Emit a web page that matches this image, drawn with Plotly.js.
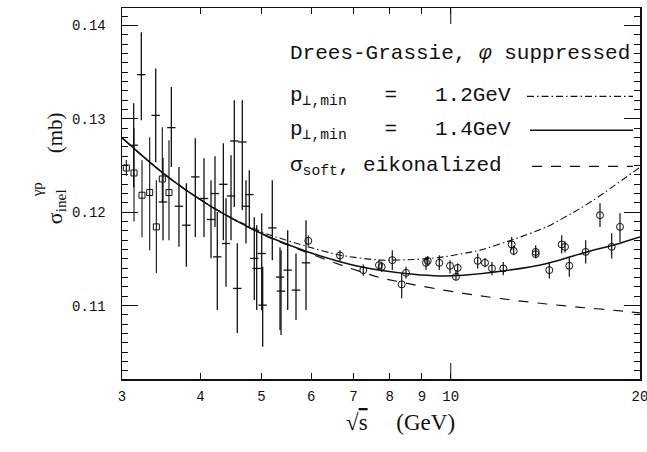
<!DOCTYPE html>
<html>
<head>
<meta charset="utf-8">
<script src="https://cdn.plot.ly/plotly-3.0.1.min.js"></script>
<style>html,body{margin:0;padding:0;background:#fff;}#chart{width:647px;height:452px;}</style>
</head>
<body>
<div id="chart"></div>
<script>
// ---- data ----
// crosses (low-energy data, error bars)
const crossX  = [3.131, 3.220, 3.394, 3.486, 3.594, 3.696, 3.797, 3.924, 4.051, 4.156, 4.217, 4.253, 4.348, 4.391, 4.472, 4.526, 4.576, 4.661, 4.724, 4.782, 4.870, 4.913, 5.004, 5.022, 5.202, 5.351, 5.371, 5.504, 5.674, 5.886];
const crossY  = [0.12717, 0.13473, 0.13037, 0.12110, 0.12906, 0.12064, 0.11861, 0.12378, 0.12147, 0.11922, 0.12200, 0.11522, 0.12299, 0.11665, 0.12174, 0.12763, 0.11184, 0.12752, 0.12064, 0.12189, 0.11505, 0.11398, 0.11558, 0.11005, 0.11832, 0.11305, 0.11155, 0.11380, 0.11166, 0.11458];
const crossHi = [0.13166, 0.13928, 0.13540, 0.12580, 0.13340, 0.12485, 0.12310, 0.12791, 0.12578, 0.12342, 0.12599, 0.12003, 0.12738, 0.12150, 0.12610, 0.13198, 0.11668, 0.13198, 0.12342, 0.12449, 0.11947, 0.11861, 0.11989, 0.11415, 0.12342, 0.11626, 0.11594, 0.11807, 0.11558, 0.11914];
const crossLo = [0.12267, 0.12984, 0.12535, 0.11701, 0.12485, 0.11629, 0.11415, 0.11736, 0.11736, 0.11508, 0.11843, 0.10952, 0.11701, 0.11201, 0.11701, 0.12057, 0.10706, 0.12021, 0.11665, 0.11843, 0.11059, 0.10952, 0.10952, 0.10559, 0.11487, 0.10738, 0.10684, 0.10952, 0.10845, 0.10952];

// open squares
const sqX  = [3.048, 3.135, 3.228, 3.320, 3.402, 3.477, 3.563];
const sqY  = [0.12474, 0.12420, 0.12182, 0.12211, 0.11843, 0.12356, 0.12211];
const sqHi = [0.12560, 0.12900, 0.12556, 0.12802, 0.12342, 0.12909, 0.12770];
const sqLo = [0.12390, 0.11900, 0.11733, 0.11594, 0.11348, 0.12100, 0.11701];

// open circles
const cX  = [5.935, 6.666, 7.260, 7.689, 7.766, 8.073, 8.356, 8.489, 9.134, 9.191, 9.590, 9.973, 10.194, 10.258, 11.038, 11.337, 11.631, 12.123, 12.501, 12.593, 13.650, 13.650, 14.347, 15.014, 15.196, 15.438, 16.393, 17.275, 18.031, 18.588];
const cY  = [0.11693, 0.11537, 0.11380, 0.11433, 0.11415, 0.11487, 0.11227, 0.11351, 0.11458, 0.11479, 0.11458, 0.11426, 0.11308, 0.11404, 0.11479, 0.11458, 0.11398, 0.11398, 0.11655, 0.11586, 0.11575, 0.11551, 0.11380, 0.11655, 0.11629, 0.11426, 0.11575, 0.11968, 0.11629, 0.11843];
const cHi = [0.11750, 0.11594, 0.11440, 0.11490, 0.11470, 0.11594, 0.11348, 0.11415, 0.11522, 0.11530, 0.11540, 0.11487, 0.11380, 0.11450, 0.11558, 0.11510, 0.11468, 0.11468, 0.11736, 0.11640, 0.11647, 0.11610, 0.11468, 0.11754, 0.11690, 0.11522, 0.11701, 0.12096, 0.11775, 0.11989];
const cLo = [0.11640, 0.11468, 0.11320, 0.11380, 0.11360, 0.11380, 0.11080, 0.11291, 0.11380, 0.11430, 0.11380, 0.11344, 0.11273, 0.11330, 0.11398, 0.11410, 0.11326, 0.11326, 0.11594, 0.11540, 0.11520, 0.11508, 0.11291, 0.11558, 0.11570, 0.11308, 0.11451, 0.11843, 0.11505, 0.11679];

// theory curves
const solidX = [3, 3.243, 3.499, 3.779, 4.141, 4.456, 4.794, 5.235, 5.901, 6.666, 7.252, 7.718, 8.709, 9.614, 10.459, 12.109, 14.227, 16.472, 18.117, 20];
const solidY = [0.12797, 0.12595, 0.12410, 0.12244, 0.12069, 0.11945, 0.11833, 0.11713, 0.11580, 0.11470, 0.11410, 0.11378, 0.11335, 0.11318, 0.11325, 0.11370, 0.11451, 0.11575, 0.11647, 0.11736];
const ddX = [3, 3.243, 3.499, 3.779, 4.141, 4.456, 4.794, 5.097, 5.935, 6.666, 7.718, 8.719, 9.614, 11.131, 12.575, 14.211, 16.055, 16.856, 20];
const ddY = [0.12797, 0.12595, 0.12410, 0.12244, 0.12069, 0.11948, 0.11845, 0.11768, 0.11629, 0.11540, 0.11487, 0.11494, 0.11516, 0.11594, 0.11708, 0.11843, 0.12040, 0.12128, 0.12481];
const dsX = [3, 3.243, 3.499, 3.779, 4.141, 4.456, 4.794, 5.235, 5.901, 6.747, 7.718, 8.719, 9.853, 11.131, 12.575, 14.211, 16.055, 18.137, 20];
const dsY = [0.12797, 0.12595, 0.12410, 0.12244, 0.12069, 0.11945, 0.11830, 0.11705, 0.11570, 0.11425, 0.11300, 0.11225, 0.11160, 0.11105, 0.11058, 0.11017, 0.10982, 0.10950, 0.10922];

const xTicks = [3, 4, 5, 6, 7, 8, 9, 10, 20];
const xTickText = ['3', '4', '5', '6', '7', '8', '9', '10', '20'];
const legendLabels = ['Drees-Grassie, <i>φ</i> suppressed', 'p<sub>⊥,min</sub>   =   1.2GeV', 'p<sub>⊥,min</sub>   =   1.4GeV', 'σ<sub>soft</sub>, eikonalized'];

// ---- drawing ----
const ink = '#111';
const up = (hi, y) => hi.map((h, i) => +(h - y[i]).toFixed(6));
const dn = (lo, y) => lo.map((l, i) => +(y[i] - l).toFixed(6));

const traces = [
  {x: solidX, y: solidY, mode: 'lines', line: {color: ink, width: 1.5, shape: 'spline', smoothing: 0.6}, hoverinfo: 'skip'},
  {x: ddX, y: ddY, mode: 'lines', line: {color: ink, width: 1.1, dash: '7px,3px,1.5px,3px', shape: 'spline', smoothing: 0.6}, hoverinfo: 'skip'},
  {x: dsX, y: dsY, mode: 'lines', line: {color: ink, width: 1.2, dash: '10px,9px', shape: 'spline', smoothing: 0.6}, hoverinfo: 'skip'},
  {x: crossX, y: crossY, mode: 'markers',
   marker: {symbol: 'line-ew-open', size: 6, color: ink, line: {color: ink, width: 1.3}},
   error_y: {type: 'data', symmetric: false, array: up(crossHi, crossY), arrayminus: dn(crossLo, crossY), color: ink, thickness: 1.3, width: 0}},
  {x: sqX, y: sqY, mode: 'markers',
   marker: {symbol: 'square-open', size: 6, color: ink, line: {color: ink, width: 1}},
   error_y: {type: 'data', symmetric: false, array: up(sqHi, sqY), arrayminus: dn(sqLo, sqY), color: ink, thickness: 1.1, width: 0}},
  {x: cX, y: cY, mode: 'markers',
   marker: {symbol: 'circle-open', size: 7, color: ink, line: {color: ink, width: 1}},
   error_y: {type: 'data', symmetric: false, array: up(cHi, cY), arrayminus: dn(cLo, cY), color: ink, thickness: 1.2, width: 0}}
];

const PW = 518, PH = 371.5, L = 122, B = 379;
const px = v => (v - L) / PW;
const py = v => (B - v) / PH;

const serif = 'Liberation Serif, DejaVu Serif, serif';
const mono = 'Liberation Mono, DejaVu Sans Mono, monospace';

const annotations = [];
const rowY = [53, 96, 130, 166];
legendLabels.forEach((t, i) => {
  annotations.push({xref: 'paper', yref: 'paper', x: px(288), y: py(rowY[i]), xanchor: 'left', yanchor: 'middle',
    text: t, showarrow: false, font: {family: mono, size: 21, color: ink}});
});
// axis titles
annotations.push({xref: 'paper', yref: 'paper', x: px(400), y: py(437), text: '√<span style="text-decoration:overline">s</span>     (GeV)',
  showarrow: false, font: {family: serif, size: 23, color: ink}});
annotations.push({xref: 'paper', yref: 'paper', x: px(41), y: py(133), text: '(mb)', textangle: -90,
  showarrow: false, font: {family: serif, size: 21, color: ink}});
annotations.push({xref: 'paper', yref: 'paper', x: px(40), y: py(207), text: 'σ<sub>inel</sub>', textangle: -90,
  showarrow: false, font: {family: serif, size: 22, color: ink}});
annotations.push({xref: 'paper', yref: 'paper', x: px(27), y: py(190), text: 'γp', textangle: -90,
  showarrow: false, font: {family: serif, size: 15, color: ink}});

const shapes = [
  {type: 'line', xref: 'paper', yref: 'paper', x0: px(527), x1: px(633), y0: py(96), y1: py(96), line: {color: ink, width: 1.1, dash: '7px,3px,1.5px,3px'}},
  {type: 'line', xref: 'paper', yref: 'paper', x0: px(530), x1: px(633), y0: py(130), y1: py(130), line: {color: ink, width: 1.5}},
  {type: 'line', xref: 'paper', yref: 'paper', x0: px(532), x1: px(633), y0: py(166), y1: py(166), line: {color: ink, width: 1.2, dash: '10px,9px'}},
  // longer decade tick at 10 (bottom and top)
  {type: 'line', xref: 'x', yref: 'paper', x0: 10, x1: 10, y0: 0, y1: 16 / PH, line: {color: ink, width: 1}},
  {type: 'line', xref: 'x', yref: 'paper', x0: 10, x1: 10, y0: 1, y1: 1 - 16 / PH, line: {color: ink, width: 1}}
];

const layout = {
  width: 647, height: 452,
  margin: {l: 122, r: 7, t: 7.5, b: 73, pad: 0},
  paper_bgcolor: '#fff', plot_bgcolor: '#fff',
  showlegend: false,
  xaxis: {type: 'log', range: [Math.log10(3) - 1e-5, Math.log10(20) + 1e-5], tickvals: xTicks, ticktext: xTickText,
    ticks: 'inside', ticklen: 6, tickwidth: 1, tickcolor: ink, mirror: 'ticks', showline: true, linewidth: 1.5, linecolor: ink,
    showgrid: false, zeroline: false, ticklabelstandoff: 4, ticklabeloverflow: 'allow', tickfont: {family: mono, size: 14, color: ink}},
  yaxis: {range: [0.10214, 0.14187], tick0: 0.11, dtick: 0.01, tickformat: '.2f',
    ticks: 'inside', ticklen: 16, tickwidth: 1, tickcolor: ink, mirror: 'ticks', showline: true, linewidth: 1.5, linecolor: ink,
    showgrid: false, zeroline: false, ticklabelstandoff: 12, tickfont: {family: mono, size: 14, color: ink},
    minor: {dtick: 0.001, ticks: 'inside', ticklen: 6, tickwidth: 1, tickcolor: ink, showgrid: false}},
  annotations: annotations,
  shapes: shapes
};

Plotly.newPlot('chart', traces, layout, {staticPlot: true, displayModeBar: false});
</script>
</body>
</html>
